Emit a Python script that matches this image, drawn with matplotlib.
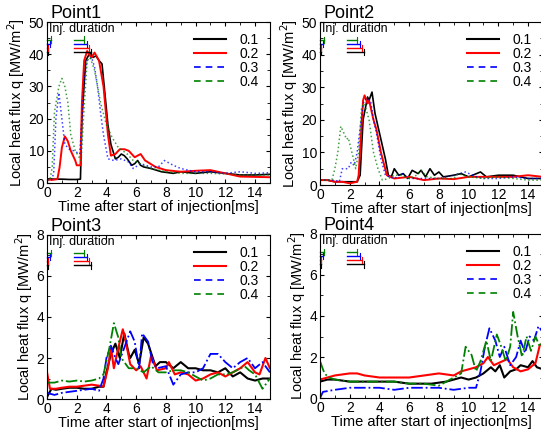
import matplotlib
matplotlib.use("Agg")
import matplotlib.pyplot as plt
from matplotlib.lines import Line2D
from matplotlib.ticker import MultipleLocator

plt.rcParams['font.family'] = ['Liberation Sans', 'DejaVu Sans']

labels = ['0.1', '0.2', '0.3', '0.4']
colors = ['black', 'red', 'blue', 'green']

# ---- Point1 ----
p1_t_k = [0, 0.5, 1, 1.5, 2, 2.25, 2.35, 2.6, 2.9, 3.1, 3.3, 3.5, 3.7, 3.85, 4.1, 4.3, 4.5, 4.6, 4.8, 5.0, 5.2, 5.4, 5.7, 5.9, 6.1, 6.3, 6.5, 7.0, 7.7, 8.5, 9.0, 10, 11, 12, 13, 14, 15]
p1_q_k = [1.3, 1.2, 1.2, 1.1, 1.1, 1.2, 20, 38, 40.5, 39, 39.5, 38, 37, 30, 18, 12, 9, 7.5, 8, 9, 8.5, 7.5, 5.5, 6, 7, 5.5, 5, 4.5, 3.5, 3, 3.5, 3, 3.5, 3, 2.5, 2.5, 2.7]
p1_t_r = [0, 0.4, 0.7, 0.85, 1.0, 1.2, 1.4, 1.6, 1.9, 2.0, 2.25, 2.35, 2.5, 2.7, 2.9, 3.0, 3.2, 3.5, 3.8, 4.1, 4.3, 4.6, 4.9, 5.2, 5.5, 5.9, 6.3, 6.6, 7.3, 8, 9, 10, 11, 12, 13, 14, 15]
p1_q_r = [1, 1, 1.2, 5, 11, 14.5, 13, 10, 7, 5.5, 5.5, 25, 38, 41, 39.5, 39, 40.5, 38, 30, 15, 8.5, 9, 10.5, 10.5, 10, 8, 9, 7, 5, 4, 3.5, 3.8, 4, 3, 2, 1.9, 1.8]
p1_t_b = [0, 0.3, 0.45, 0.6, 0.8, 1.0, 1.2, 1.5, 1.8, 2.0, 2.2, 2.35, 2.5, 2.7, 3.0, 3.2, 3.4, 3.6, 3.8, 4.1, 4.5, 5.0, 5.5, 5.8, 6.3, 7.0, 7.5, 7.9, 8.5, 9.0, 10, 11, 12, 13, 14, 15]
p1_q_b = [1, 1, 3, 20, 28, 20, 12, 10.5, 10, 9.5, 9, 20, 32, 38, 39, 36, 30, 22, 15, 7.5, 7, 7.5, 6.5, 4.5, 6, 5, 5, 7, 5.5, 4.5, 3.5, 3.5, 3, 3.5, 3, 3.2]
p1_t_g = [0, 0.2, 0.35, 0.5, 0.8, 1.0, 1.2, 1.4, 1.6, 1.9, 2.1, 2.3, 2.45, 2.7, 2.9, 3.2, 3.4, 3.6, 4.0, 4.4, 4.8, 5.4, 5.8, 6.5, 7.0, 8, 9, 10, 11, 12, 13, 14, 15]
p1_q_g = [1, 1, 5, 22, 30, 32.5, 30, 25, 15, 10, 8.5, 7, 20, 38, 39, 35, 30, 25, 18, 14, 11, 9, 7, 5.5, 4.5, 3.5, 3, 3, 3, 2.8, 2.5, 2.5, 2.5]

# ---- Point2 ----
p2_t_k = [0, 0.5, 1, 1.5, 2, 2.5, 2.7, 2.9, 3.2, 3.3, 3.5, 3.7, 3.9, 4.2, 4.4, 4.6, 4.8, 5.0, 5.3, 5.6, 5.9, 6.2, 6.6, 6.8, 7.1, 7.4, 7.7, 8.0, 8.3, 9.0, 9.5, 10, 10.8, 11.2, 12, 13, 14, 15]
p2_q_k = [1.5, 1.5, 1, 1, 1, 1, 3, 20, 27, 26, 28.5, 22, 18, 12, 8, 3, 2.5, 5, 3, 3.5, 2, 4.5, 3.5, 4.5, 2.5, 5, 3, 4, 2.5, 3, 3.5, 2.5, 4, 2.5, 3, 3, 2, 2]
p2_t_r = [0, 0.5, 1, 1.5, 2, 2.5, 2.6, 2.9, 3.0, 3.2, 3.3, 3.6, 3.8, 4.1, 4.5, 5, 6, 7, 8, 9, 10, 11, 12, 13, 14, 15]
p2_q_r = [1.5, 1.5, 1, 1, 0.5, 1, 3, 26, 27.5, 25, 26, 20, 17, 10, 3, 2, 2.5, 1.5, 2, 1.8, 2.5, 2.5, 2.5, 2.5, 3, 2.5]
p2_t_b = [0, 0.5, 1, 1.3, 1.5, 1.9, 2.1, 2.3, 2.5, 2.9, 3.1, 3.4, 3.6, 3.8, 4.1, 4.4, 5, 5.5, 6, 7, 8, 9, 9.8, 10.5, 11, 12, 13, 14, 15]
p2_q_b = [1.5, 1.5, 1.5, 1, 5, 5, 7, 6, 10, 25, 26.5, 26, 20, 16, 8, 3, 2, 3.5, 2, 2, 2, 3, 4, 2.5, 2, 2, 2.5, 2, 2]
p2_t_g = [0, 0.5, 0.8, 1.0, 1.2, 1.4, 1.6, 1.8, 1.9, 2.2, 2.4, 2.6, 2.8, 3.0, 3.3, 3.6, 3.9, 4.2, 4.6, 5.0, 5.5, 6.0, 6.5, 6.8, 7.2, 8, 9, 9.3, 10, 11, 12, 13, 14, 15]
p2_q_g = [1.5, 1.5, 1.5, 5, 10, 18, 16, 14, 14.5, 9, 5, 10, 24, 25, 20, 10, 5, 1.5, 2, 3, 3, 2, 3, 4.5, 2.5, 2, 2, 3.5, 2.5, 2, 2.5, 2, 1.5, 1.5]

# ---- Point3 ----
p3_t_k = [0, 0.3, 0.6, 1, 1.5, 2, 2.5, 3, 3.5, 3.8, 4.0, 4.3, 4.6, 4.9, 5.2, 5.5, 5.6, 5.9, 6.2, 6.5, 6.8, 7.3, 7.6, 8, 8.5, 9, 9.5, 10, 10.5, 11, 11.5, 12, 12.5, 13, 13.5, 14, 14.5, 15]
p3_q_k = [0.1, 0.5, 0.45, 0.5, 0.55, 0.55, 0.5, 0.5, 0.6, 0.6, 1.3, 2.2, 2.7, 2.0, 3.2, 2.2, 2.0, 2.4, 1.7, 3.0, 2.7, 1.6, 1.8, 1.8, 1.5, 1.8, 1.5, 1.5, 1.4, 1.4, 1.3, 1.5, 1.1, 1.3, 1.0, 0.9, 1.0, 1.0]
p3_t_r = [0, 0.2, 0.6, 1, 1.5, 2, 2.5, 3, 3.5, 3.8, 4.1, 4.3, 4.5, 4.8, 5.1, 5.3, 5.6, 6.0, 6.3, 6.7, 7.0, 7.4, 8.0, 8.2, 8.6, 9, 9.5, 10, 10.5, 11, 11.5, 12, 12.5, 13, 13.5, 14, 14.3, 14.7, 15]
p3_q_r = [1.3, 0.5, 0.5, 0.55, 0.6, 0.6, 0.65, 0.7, 0.65, 0.6, 1.5, 2.5, 1.5, 2.5, 3.4, 2.8, 1.7, 1.4, 1.6, 1.0, 2.1, 1.4, 1.5, 1.8, 1.2, 1.3, 1.2, 0.9, 1.0, 1.2, 1.3, 1.1, 1.3, 1.5, 1.8, 1.3, 1.2, 2.0, 1.5]
p3_t_b = [0, 0.5, 1, 1.5, 2, 2.5, 3, 3.5, 3.8, 4.0, 4.3, 4.6, 4.8, 5.1, 5.6, 5.9, 6.2, 6.4, 6.8, 7.1, 7.4, 8, 8.5, 9, 9.5, 10, 10.5, 11, 11.5, 12, 12.5, 13, 13.5, 14, 14.5, 15]
p3_q_b = [0.3, 0.2, 0.3, 0.35, 0.4, 0.45, 0.5, 0.4, 1.0, 2.0, 2.6, 2.0, 1.7, 2.3, 3.3, 2.8, 1.5, 3.2, 2.8, 1.8, 1.5, 1.6, 0.7, 1.2, 1.3, 1.3, 1.5, 2.2, 2.2, 1.8, 1.5, 1.8, 2.0, 1.5, 1.8, 1.3]
p3_t_g = [0, 0.5, 1, 1.5, 2, 2.5, 3, 3.5, 3.8, 4.2, 4.5, 4.8, 5.0, 5.5, 6, 6.5, 7, 7.5, 8, 8.5, 9, 9.5, 10, 10.5, 11, 11.5, 12, 12.5, 13.3, 13.6, 14, 14.5, 15]
p3_q_g = [0.8, 0.8, 0.9, 0.85, 0.9, 0.85, 0.9, 1.0, 1.2, 2.5, 3.7, 3.0, 2.0, 1.5, 1.5, 1.3, 1.6, 1.3, 1.3, 1.4, 1.4, 1.3, 1.1, 0.9, 1.0, 1.2, 1.2, 1.3, 1.6, 1.4, 1.2, 0.5, 1.0]

# ---- Point4 ----
p4_t_k = [0, 0.5, 1, 2, 3, 4, 5, 6, 7, 7.5, 8.5, 9, 9.5, 10, 10.5, 11, 11.5, 11.8, 12.1, 12.4, 12.8, 13.2, 13.5, 14, 14.3, 14.6, 15]
p4_q_k = [0.8, 0.9, 0.9, 0.8, 0.8, 0.8, 0.8, 0.7, 0.7, 0.7, 0.8, 0.9, 1.0, 0.9, 1.0, 1.2, 1.5, 1.3, 1.6, 1.0, 1.3, 1.4, 1.6, 1.5, 1.8, 1.5, 1.4]
p4_t_r = [0, 0.5, 1, 2, 2.5, 3, 4, 5, 6, 7, 8, 9, 9.5, 10, 10.5, 11, 11.3, 11.7, 12.3, 12.6, 13, 13.5, 14, 14.5, 14.8, 15]
p4_q_r = [0.9, 1.0, 1.1, 1.2, 1.2, 1.1, 1.0, 1.0, 1.0, 1.1, 1.2, 1.1, 1.3, 1.4, 1.5, 1.7, 2.0, 1.6, 1.8, 1.9, 1.5, 1.3, 1.4, 1.7, 2.6, 2.6]
p4_t_b = [0, 0.2, 1, 2, 3, 4, 5, 6, 7, 8, 9, 10, 10.5, 10.8, 11.1, 11.4, 11.8, 12.1, 12.4, 12.8, 13.2, 13.5, 13.8, 14.1, 14.4, 14.7, 15]
p4_q_b = [0.0, 0.3, 0.4, 0.5, 0.5, 0.5, 0.4, 0.5, 0.5, 0.5, 0.4, 0.5, 0.5, 1.3, 2.5, 3.4, 2.8, 2.0, 2.5, 1.6, 2.0, 2.8, 2.2, 3.0, 2.8, 3.5, 3.2]
p4_t_g = [0, 0.3, 0.6, 1, 2, 3, 4, 5, 6, 7, 8, 8.5, 9, 9.5, 9.8, 10.2, 10.5, 10.8, 11.2, 11.5, 11.9, 12.2, 12.5, 12.8, 13.0, 13.3, 13.6, 13.9, 14.2, 14.5, 14.8, 15]
p4_q_g = [1.8, 1.2, 1.0, 0.9, 0.8, 0.8, 0.8, 0.8, 0.7, 0.7, 0.6, 0.8, 1.0, 1.2, 2.5, 2.1, 1.3, 1.8, 2.8, 1.8, 3.1, 2.5, 1.8, 2.5, 4.2, 3.0, 2.0, 3.0, 2.3, 3.0, 2.5, 2.8]

# injection durations [ms] (first and second injection) for 0.1..0.4
inj1_end = [0.05, 0.1, 0.2, 0.3]
inj2_start = [1.8, 1.8, 1.8, 1.8]
inj2_end = [2.95, 2.85, 2.7, 2.5]

panels = [
    ('Point1', 50, 10, [(p1_t_k, p1_q_k), (p1_t_r, p1_q_r), (p1_t_b, p1_q_b), (p1_t_g, p1_q_g)]),
    ('Point2', 50, 10, [(p2_t_k, p2_q_k), (p2_t_r, p2_q_r), (p2_t_b, p2_q_b), (p2_t_g, p2_q_g)]),
    ('Point3', 8, 2, [(p3_t_k, p3_q_k), (p3_t_r, p3_q_r), (p3_t_b, p3_q_b), (p3_t_g, p3_q_g)]),
    ('Point4', 8, 2, [(p4_t_k, p4_q_k), (p4_t_r, p4_q_r), (p4_t_b, p4_q_b), (p4_t_g, p4_q_g)]),
]

positions = [
    [0.0869, 0.5783, 0.412, 0.371],
    [0.5915, 0.5737, 0.412, 0.3756],
    [0.0869, 0.0806, 0.412, 0.378],
    [0.5915, 0.0829, 0.412, 0.378],
]

fig = plt.figure(figsize=(5.41, 4.34), dpi=100)

styles_top = [dict(ls='-', lw=1.2, alpha=1.0),
              dict(ls='-', lw=1.4, alpha=1.0),
              dict(ls=':', lw=1.1, alpha=0.75),
              dict(ls=':', lw=1.1, alpha=0.75)]
styles_bot = [dict(ls='-', lw=1.5, alpha=1.0),
              dict(ls='-', lw=1.5, alpha=1.0),
              dict(ls='-.', lw=1.3, alpha=1.0),
              dict(ls='-.', lw=1.3, alpha=1.0)]

levels = [0.815, 0.84, 0.865, 0.89]

for k, ((name, ymax, ystep, series), pos) in enumerate(zip(panels, positions)):
    ax = fig.add_axes(pos)
    styles = styles_top if k < 2 else styles_bot
    for (t, q), c, st in zip(series, colors, styles):
        ax.plot(t, q, color=c, ls=st['ls'], lw=st['lw'], alpha=st['alpha'])
    ax.set_xlim(0, 15)
    ax.set_ylim(0, ymax)
    ax.xaxis.set_major_locator(MultipleLocator(2))
    ax.xaxis.set_minor_locator(MultipleLocator(1))
    ax.yaxis.set_major_locator(MultipleLocator(ystep))
    ax.yaxis.set_minor_locator(MultipleLocator(ystep / 2))
    ax.tick_params(which='both', direction='in', top=True, right=True, labelsize=10, pad=2)
    ax.tick_params(which='major', length=3)
    ax.tick_params(which='minor', length=2)
    ax.set_xlabel('Time after start of injection[ms]', fontsize=10.5, labelpad=0)
    ax.set_ylabel('Local heat flux q [MW/m$^2$]', fontsize=10.5, labelpad=1)
    ax.text(0.015, 1.002, name, transform=ax.transAxes, fontsize=13, va='bottom', ha='left')
    ax.text(0.008, 0.996, 'Inj. duration', transform=ax.transAxes, fontsize=9, va='top', ha='left')
    trans = ax.get_xaxis_transform()
    for i, c in enumerate(colors):
        y = levels[i]
        ax.plot([0, inj1_end[i]], [y, y], color=c, lw=1.0, transform=trans, clip_on=False)
        ax.plot([inj1_end[i], inj1_end[i]], [y - 0.02, y + 0.02], color=c, lw=0.8, transform=trans)
        ax.plot([inj2_start[i], inj2_end[i]], [y, y], color=c, lw=1.0, transform=trans)
        ax.plot([inj2_end[i], inj2_end[i]], [y - 0.02, y + 0.02], color=c, lw=0.8, transform=trans)
    handles = [Line2D([], [], color='black', lw=1.5),
               Line2D([], [], color='red', lw=1.5),
               Line2D([], [], color='blue', lw=1.2, ls=(0, (4, 3))),
               Line2D([], [], color='green', lw=1.2, ls=(0, (4, 3)))]
    ax.legend(handles, labels, loc='upper right', bbox_to_anchor=(1.0, 1.0), frameon=False,
              fontsize=10, handlelength=2.3, handletextpad=1.0, labelspacing=0.0,
              borderaxespad=0.4)

fig.savefig('out.png', dpi=100)
